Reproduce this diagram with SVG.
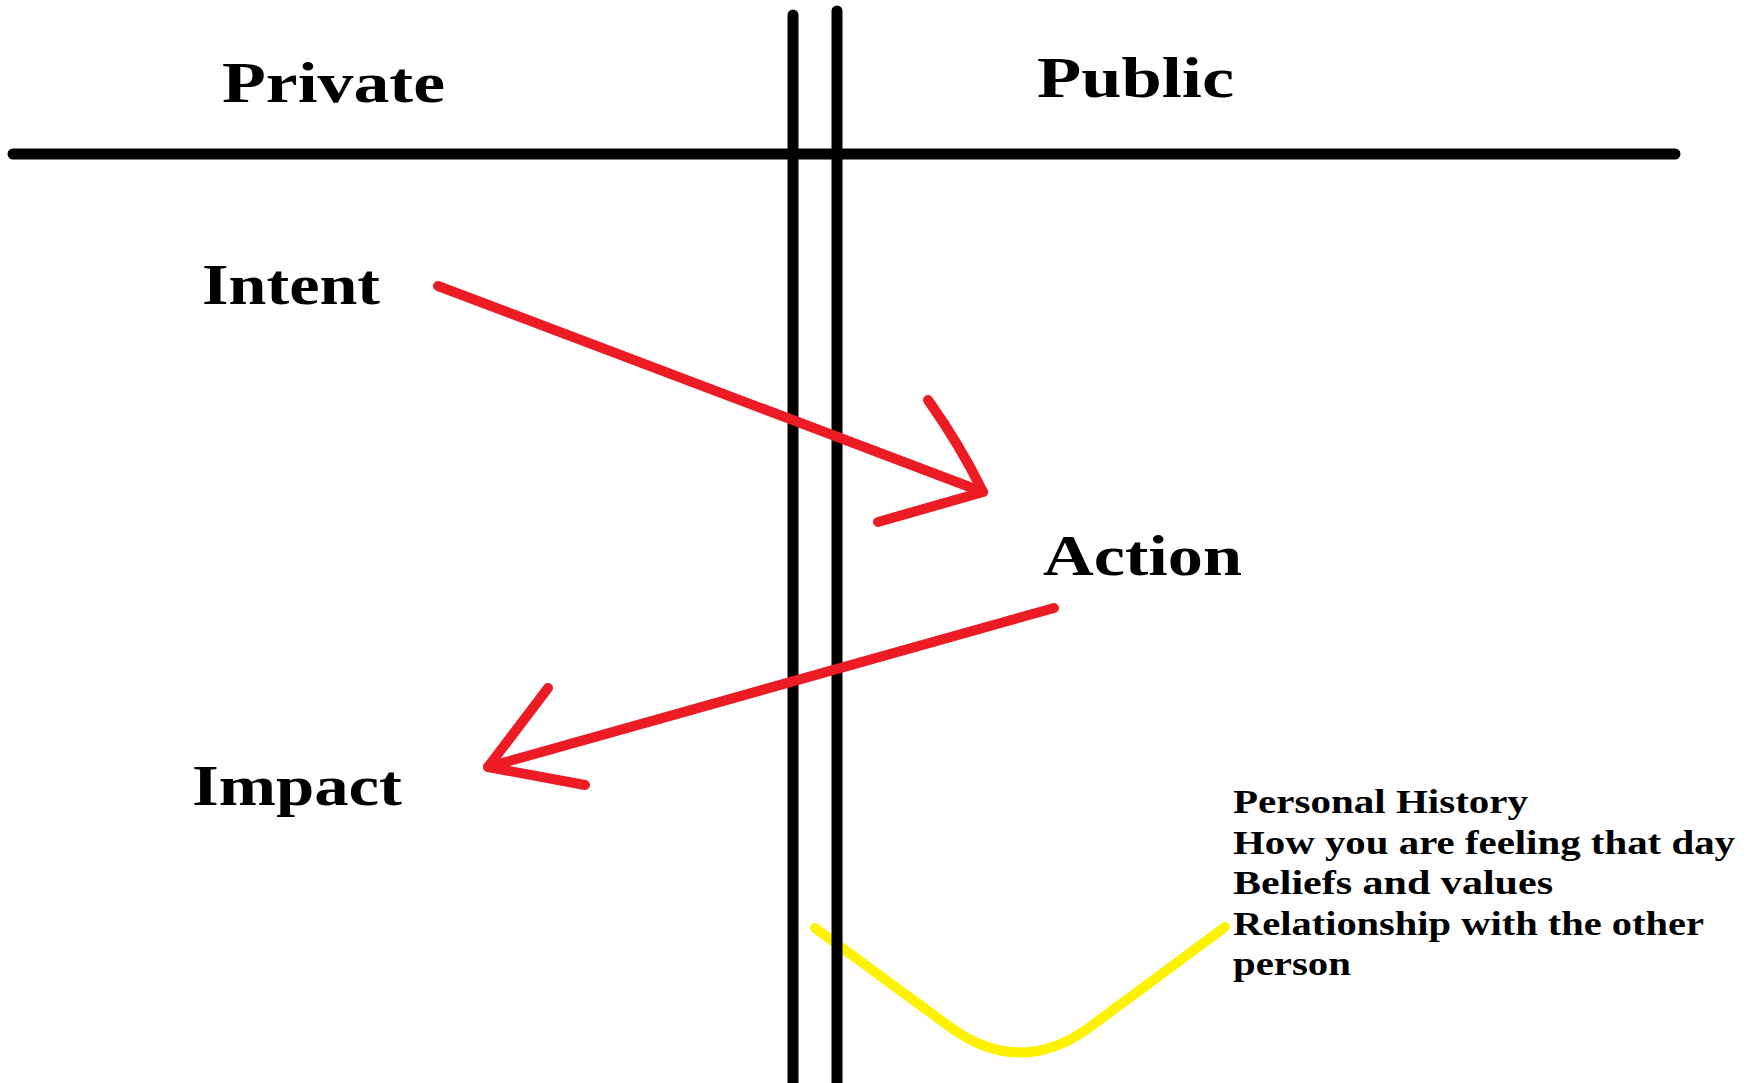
<svg xmlns="http://www.w3.org/2000/svg" width="1756" height="1083" viewBox="0 0 1756 1083">
  <style>
    .bg { fill: #ffffff; }
    .rule { stroke: #000000; stroke-width: 11; stroke-linecap: round; fill: none; }
    .red { stroke: #ED1C24; stroke-width: 10; stroke-linecap: round; stroke-linejoin: round; fill: none; }
    .yel { stroke: #FFF200; stroke-width: 10; stroke-linecap: round; stroke-linejoin: round; fill: none; }
    .big { font-family: "Liberation Serif", "Times New Roman", serif; font-weight: bold; font-size: 56px; fill: #000000; }
    .small { font-family: "Liberation Serif", "Times New Roman", serif; font-weight: bold; font-size: 34px; fill: #000000; }
  </style>
  <rect class="bg" x="0" y="0" width="1756" height="1083"/>

  <g id="influences-curve">
    <path class="yel" d="M815,928 L950,1027 Q1020,1078 1090,1027 L1225,927"/>
  </g>

  <g id="dividers">
    <line class="rule" x1="13" y1="154" x2="1675" y2="154"/>
    <line class="rule" x1="793" y1="15" x2="793" y2="1090"/>
    <line class="rule" x1="837" y1="11" x2="837" y2="1090"/>
  </g>

  <g id="connectors">
    <g id="intent-to-action">
      <path class="red" d="M438,286 L983,492"/>
      <path class="red" d="M928,400 Q960,445 983,492 L878,522"/>
    </g>
    <g id="action-to-impact">
      <path class="red" d="M1054,608 L488,767"/>
      <path class="red" d="M548,688 L488,767 L585,785"/>
    </g>
  </g>

  <g id="private">
    <text class="big" x="222" y="102" textLength="223" lengthAdjust="spacingAndGlyphs">Private</text>
  </g>
  <g id="public">
    <text class="big" x="1037" y="97" textLength="197" lengthAdjust="spacingAndGlyphs">Public</text>
  </g>
  <g id="intent">
    <text class="big" x="202" y="304" textLength="178" lengthAdjust="spacingAndGlyphs">Intent</text>
  </g>
  <g id="action">
    <text class="big" x="1043" y="575" textLength="199" lengthAdjust="spacingAndGlyphs">Action</text>
  </g>
  <g id="impact">
    <text class="big" x="192" y="805" textLength="210" lengthAdjust="spacingAndGlyphs">Impact</text>
  </g>
  <g id="influences">
    <text class="small" x="1233" y="813" textLength="295" lengthAdjust="spacingAndGlyphs">Personal History</text>
    <text class="small" x="1233" y="854" textLength="502" lengthAdjust="spacingAndGlyphs">How you are feeling that day</text>
    <text class="small" x="1233" y="894" textLength="320" lengthAdjust="spacingAndGlyphs">Beliefs and values</text>
    <text class="small" x="1233" y="935" textLength="471" lengthAdjust="spacingAndGlyphs">Relationship with the other</text>
    <text class="small" x="1233" y="975" textLength="118" lengthAdjust="spacingAndGlyphs">person</text>
  </g>
</svg>
